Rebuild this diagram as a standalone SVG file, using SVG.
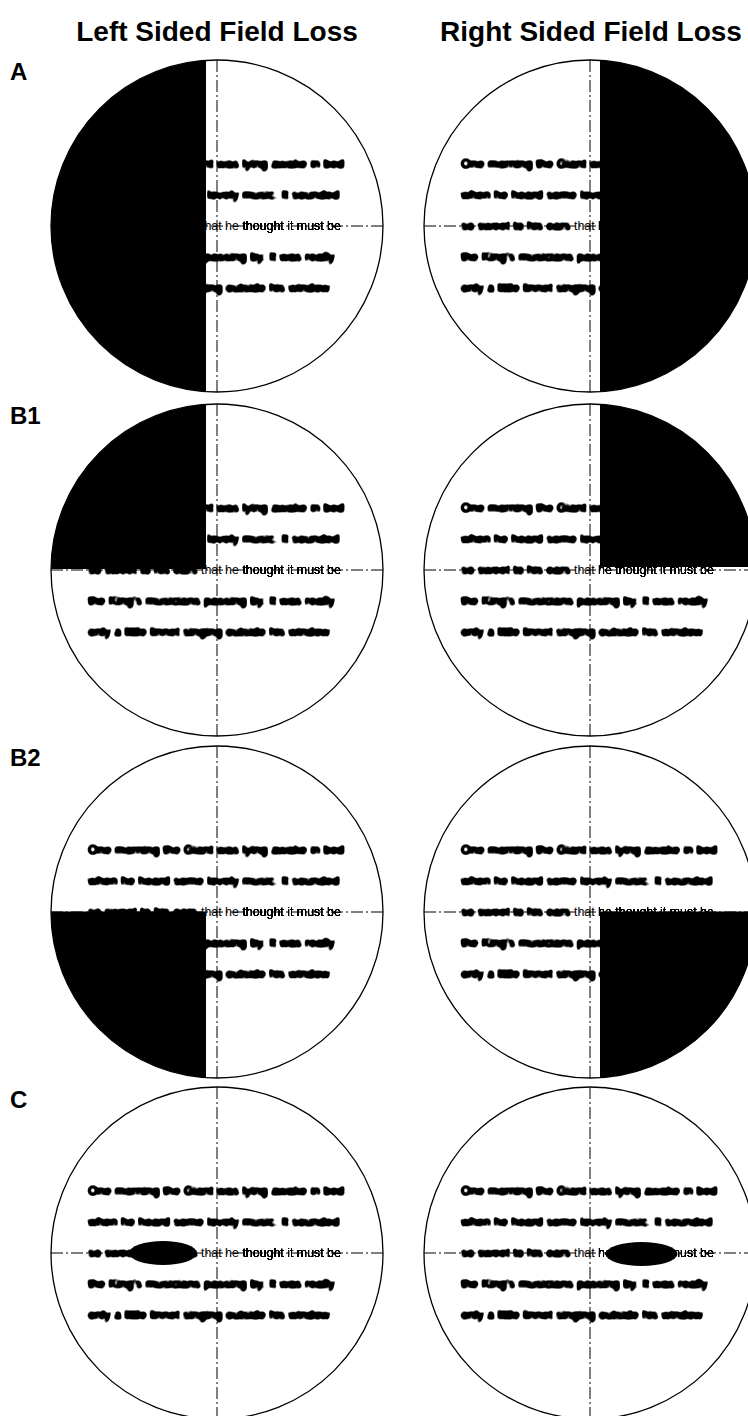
<svg xmlns="http://www.w3.org/2000/svg" width="748" height="1416" viewBox="0 0 748 1416">
<defs>
<style>
.ring{fill:none;stroke:#000;stroke-width:1.3}
.axis{fill:none;stroke:#000;stroke-width:1;stroke-dasharray:12 3 2 3}
.blk{fill:#000}
.t{font-family:"Liberation Sans",Arial,sans-serif;font-size:12.4px;fill:#000}
.b{filter:url(#blob)}
.s{filter:url(#soft)}
.ttl{font-family:"Liberation Sans",Arial,sans-serif;font-weight:bold;font-size:28px;fill:#000;text-anchor:middle}
.lbl{font-family:"Liberation Sans",Arial,sans-serif;font-weight:bold;font-size:24px;fill:#000}
</style>
<filter id="blob" x="-5%" y="-60%" width="110%" height="220%">
<feGaussianBlur stdDeviation="1.6"/>
<feComponentTransfer><feFuncA type="linear" slope="7" intercept="-0.75"/></feComponentTransfer>
</filter>
<filter id="soft" x="-5%" y="-60%" width="110%" height="220%">
<feGaussianBlur stdDeviation="0.6"/>
<feComponentTransfer><feFuncA type="linear" slope="3" intercept="-0.15"/></feComponentTransfer>
</filter>
<clipPath id="cc"><circle cx="0" cy="0" r="166"/></clipPath>
</defs>
<rect width="748" height="1416" fill="#fff"/>

<g id="titles">
<text class="ttl" x="217" y="41">Left Sided Field Loss</text>
<text class="ttl" x="591" y="41">Right Sided Field Loss</text>
</g>
<g id="row-labels">
<text class="lbl" x="10" y="80">A</text>
<text class="lbl" x="10" y="424">B1</text>
<text class="lbl" x="10" y="766">B2</text>
<text class="lbl" x="10" y="1108">C</text>
</g>

<g id="connectors"></g>

<!-- A left -->
<g id="A-left" transform="translate(217,226)">
<line class="axis" x1="-166" y1="0" x2="166" y2="0"/>
<line class="axis" x1="0" y1="-166" x2="0" y2="166"/>
<text class="t b" x="-129" y="-58">One morning the Giant was lying awake in bed</text>
<text class="t b" x="-129" y="-27">when he heard some lovely music. It sounded</text>
<text class="t b" x="-129" y="4">so sweet to his ears</text>
<text class="t" x="-16" y="4">that he</text>
<text class="t s" x="25.4" y="4">thought it must be</text>
<text class="t b" x="-129" y="35">the King's musicians passing by. It was really</text>
<text class="t b" x="-129" y="66">only a little linnet singing outside his window</text>
<rect class="blk" clip-path="url(#cc)" x="-170" y="-170" width="159" height="340"/>
<circle class="ring" r="166"/>
</g>

<!-- A right -->
<g id="A-right" transform="translate(590,226)">
<line class="axis" x1="-166" y1="0" x2="166" y2="0"/>
<line class="axis" x1="0" y1="-166" x2="0" y2="166"/>
<text class="t b" x="-129" y="-58">One morning the Giant was lying awake in bed</text>
<text class="t b" x="-129" y="-27">when he heard some lovely music. It sounded</text>
<text class="t b" x="-129" y="4">so sweet to his ears</text>
<text class="t" x="-16" y="4">that</text>
<text class="t s" x="8.1" y="4">he thought it must be</text>
<text class="t b" x="-129" y="35">the King's musicians passing by. It was really</text>
<text class="t b" x="-129" y="66">only a little linnet singing outside his window</text>
<rect class="blk" clip-path="url(#cc)" x="10" y="-170" width="160" height="340"/>
<circle class="ring" r="166"/>
</g>

<!-- B1 left -->
<g id="B1-left" transform="translate(217,570)">
<line class="axis" x1="-166" y1="0" x2="166" y2="0"/>
<line class="axis" x1="0" y1="-166" x2="0" y2="166"/>
<text class="t b" x="-129" y="-58">One morning the Giant was lying awake in bed</text>
<text class="t b" x="-129" y="-27">when he heard some lovely music. It sounded</text>
<text class="t b" x="-129" y="4">so sweet to his ears</text>
<text class="t" x="-16" y="4">that he</text>
<text class="t s" x="25.4" y="4">thought it must be</text>
<text class="t b" x="-129" y="35">the King's musicians passing by. It was really</text>
<text class="t b" x="-129" y="66">only a little linnet singing outside his window</text>
<rect class="blk" clip-path="url(#cc)" x="-170" y="-170" width="159" height="169"/>
<circle class="ring" r="166"/>
</g>

<!-- B1 right -->
<g id="B1-right" transform="translate(590,570)">
<line class="axis" x1="-166" y1="0" x2="166" y2="0"/>
<line class="axis" x1="0" y1="-166" x2="0" y2="166"/>
<text class="t b" x="-129" y="-58">One morning the Giant was lying awake in bed</text>
<text class="t b" x="-129" y="-27">when he heard some lovely music. It sounded</text>
<text class="t b" x="-129" y="4">so sweet to his ears</text>
<text class="t" x="-16" y="4">that</text>
<text class="t s" x="8.1" y="4">he thought it must be</text>
<text class="t b" x="-129" y="35">the King's musicians passing by. It was really</text>
<text class="t b" x="-129" y="66">only a little linnet singing outside his window</text>
<rect class="blk" clip-path="url(#cc)" x="10" y="-170" width="160" height="167"/>
<circle class="ring" r="166"/>
</g>

<!-- B2 left -->
<g id="B2-left" transform="translate(217,912)">
<line class="axis" x1="-166" y1="0" x2="166" y2="0"/>
<line class="axis" x1="0" y1="-166" x2="0" y2="166"/>
<text class="t b" x="-129" y="-58">One morning the Giant was lying awake in bed</text>
<text class="t b" x="-129" y="-27">when he heard some lovely music. It sounded</text>
<text class="t b" x="-129" y="4">so sweet to his ears</text>
<text class="t" x="-16" y="4">that he</text>
<text class="t s" x="25.4" y="4">thought it must be</text>
<text class="t b" x="-129" y="35">the King's musicians passing by. It was really</text>
<text class="t b" x="-129" y="66">only a little linnet singing outside his window</text>
<rect class="blk" clip-path="url(#cc)" x="-170" y="-0.5" width="159" height="171"/>
<circle class="ring" r="166"/>
</g>

<!-- B2 right -->
<g id="B2-right" transform="translate(590,912)">
<line class="axis" x1="-166" y1="0" x2="166" y2="0"/>
<line class="axis" x1="0" y1="-166" x2="0" y2="166"/>
<text class="t b" x="-129" y="-58">One morning the Giant was lying awake in bed</text>
<text class="t b" x="-129" y="-27">when he heard some lovely music. It sounded</text>
<text class="t b" x="-129" y="4">so sweet to his ears</text>
<text class="t" x="-16" y="4">that</text>
<text class="t s" x="8.1" y="4">he thought it must be</text>
<text class="t b" x="-129" y="35">the King's musicians passing by. It was really</text>
<text class="t b" x="-129" y="66">only a little linnet singing outside his window</text>
<rect class="blk" clip-path="url(#cc)" x="10" y="-0.5" width="160" height="171"/>
<circle class="ring" r="166"/>
</g>

<!-- C left -->
<g id="C-left" transform="translate(217,1253)">
<line class="axis" x1="-166" y1="0" x2="166" y2="0"/>
<line class="axis" x1="0" y1="-166" x2="0" y2="166"/>
<text class="t b" x="-129" y="-58">One morning the Giant was lying awake in bed</text>
<text class="t b" x="-129" y="-27">when he heard some lovely music. It sounded</text>
<text class="t b" x="-129" y="4">so sweet to his ears</text>
<text class="t" x="-16" y="4">that he</text>
<text class="t s" x="25.4" y="4">thought it must be</text>
<text class="t b" x="-129" y="35">the King's musicians passing by. It was really</text>
<text class="t b" x="-129" y="66">only a little linnet singing outside his window</text>
<ellipse class="blk" cx="-54" cy="0" rx="34" ry="12"/>
<circle class="ring" r="166"/>
</g>

<!-- C right -->
<g id="C-right" transform="translate(590,1253)">
<line class="axis" x1="-166" y1="0" x2="166" y2="0"/>
<line class="axis" x1="0" y1="-166" x2="0" y2="166"/>
<text class="t b" x="-129" y="-58">One morning the Giant was lying awake in bed</text>
<text class="t b" x="-129" y="-27">when he heard some lovely music. It sounded</text>
<text class="t b" x="-129" y="4">so sweet to his ears</text>
<text class="t" x="-16" y="4">that</text>
<text class="t s" x="8.1" y="4">he thought it must be</text>
<text class="t b" x="-129" y="35">the King's musicians passing by. It was really</text>
<text class="t b" x="-129" y="66">only a little linnet singing outside his window</text>
<ellipse class="blk" cx="51.5" cy="1" rx="36" ry="12"/>
<circle class="ring" r="166"/>
</g>
</svg>
